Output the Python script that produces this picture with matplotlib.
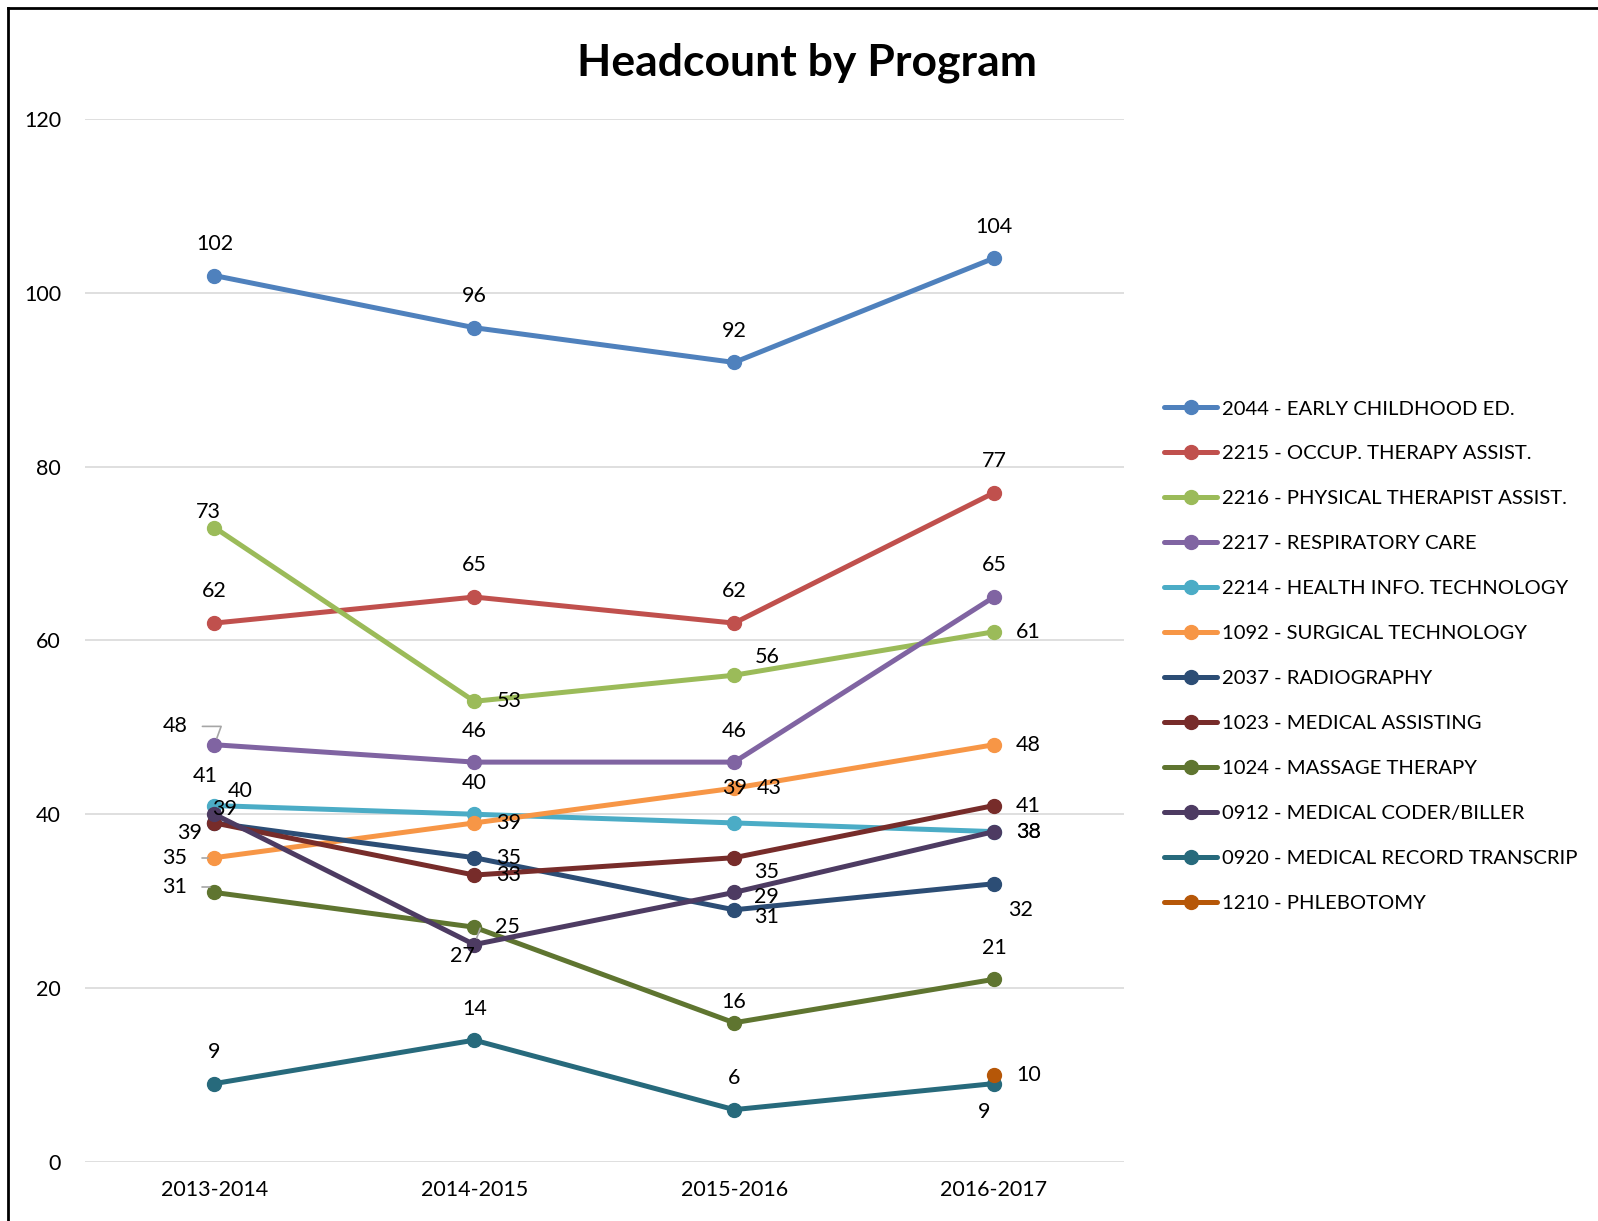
import numpy as np
import matplotlib
matplotlib.use('Agg')
import matplotlib.pyplot as plt
from matplotlib.lines import Line2D

plt.rcParams['font.family'] = ['Lato', 'DejaVu Sans']

# 데이터
years = ['2013-2014', '2014-2015', '2015-2016', '2016-2017']
programs = ['2044 - EARLY CHILDHOOD ED.', '2215 - OCCUP. THERAPY ASSIST.',
            '2216 - PHYSICAL THERAPIST ASSIST.', '2217 - RESPIRATORY CARE',
            '2214 - HEALTH INFO. TECHNOLOGY', '1092 - SURGICAL TECHNOLOGY',
            '2037 - RADIOGRAPHY', '1023 - MEDICAL ASSISTING',
            '1024 - MASSAGE THERAPY', '0912 - MEDICAL CODER/BILLER',
            '0920 - MEDICAL RECORD TRANSCRIP', '1210 - PHLEBOTOMY']
early_childhood = [102, 96, 92, 104]
occup_therapy = [62, 65, 62, 77]
physical_therapist = [73, 53, 56, 61]
respiratory = [48, 46, 46, 65]
health_info = [41, 40, 39, 38]
surgical = [35, 39, 43, 48]
radiography = [39, 35, 29, 32]
medical_assisting = [39, 33, 35, 41]
massage = [31, 27, 16, 21]
coder_biller = [40, 25, 31, 38]
transcrip = [9, 14, 6, 9]
phlebotomy = [None, None, None, 10]

series = [early_childhood, occup_therapy, physical_therapist, respiratory,
          health_info, surgical, radiography, medical_assisting, massage,
          coder_biller, transcrip, phlebotomy]
colors = ['#4F81BD', '#C0504D', '#9BBB59', '#8064A2', '#4BACC6', '#F79646',
          '#2C4D75', '#772C2A', '#5F7530', '#4D3B62', '#276A7C', '#B65708']

# 라벨 위치 (화면 px 오프셋: dx, dy)
A = (0, 31)
R = (34, 0)
label_offsets = [
    [A, A, A, A],
    [A, A, A, A],
    [(-6, 15), R, (32, 18), R],
    [(-39, 18), A, A, A],
    [(-9, 29), A, (0, 34), R],
    [(-39, 0), R, R, R],
    [(10, 14), R, (32, 13), (26, -26)],
    [(-24, -10), R, (32, -14), R],
    [(-39, 5), (-12, -28), (0, 20), A],
    [(25, 23), (33, 17), (32, -24), R],
    [A, A, A, (-10, -28)],
    [None, None, None, R],
]
leaders = {(3, 0), (5, 0), (8, 0), (9, 1)}

fig = plt.figure(figsize=(15.98, 12.21), dpi=100)
ax = fig.add_axes([0.0529, 0.0485, 0.6504, 0.8539])

x = np.arange(len(years))
k = 0.734
for i, (vals, c) in enumerate(zip(series, colors)):
    y = np.array([np.nan if v is None else v for v in vals], dtype=float)
    ax.plot(x, y, color=c, lw=3.6, marker='o', ms=10, label=programs[i],
            solid_capstyle='round', zorder=3)
    for j, v in enumerate(vals):
        if v is None:
            continue
        dx, dy = label_offsets[i][j]
        arrow = None
        if (i, j) in leaders:
            arrow = dict(arrowstyle='-', color='#A6A6A6', lw=1.2,
                         shrinkA=9, shrinkB=5,
                         connectionstyle='angle,angleA=0,angleB=70,rad=0')
        ax.annotate(str(v), (x[j], v), xytext=(dx * k, dy * k),
                    textcoords='offset points', ha='center', va='center',
                    fontsize=15.5, zorder=5, arrowprops=arrow)

ax.set_xlim(-0.5, 3.5)
ax.set_ylim(0, 120)
ax.set_yticks(range(0, 121, 20))
ax.set_xticks(x)
ax.set_xticklabels(years)
ax.grid(axis='y', color='#D9D9D9', lw=1.2, zorder=0)
for s in ax.spines.values():
    s.set_visible(False)
ax.tick_params(axis='both', length=0, labelsize=15.5)
ax.tick_params(axis='y', pad=17)
ax.tick_params(axis='x', pad=13)

fig.text(0.505, 0.949, 'Headcount by Program', ha='center', va='center',
         fontsize=32, fontweight='bold')

fig.legend(loc='center left', bbox_to_anchor=(0.7285, 0.4625), frameon=False,
           fontsize=14.6, handlelength=2.6, handletextpad=0.25, labelspacing=1.37,
           borderpad=0, borderaxespad=0)

# 차트 테두리 (왼쪽, 위쪽만 보임)
fig.add_artist(Line2D([8 / 1598, 8 / 1598], [0, 1 - 8 / 1221], color='black', lw=2,
                      transform=fig.transFigure))
fig.add_artist(Line2D([8 / 1598, 1], [1 - 8 / 1221, 1 - 8 / 1221], color='black', lw=2,
                      transform=fig.transFigure))

fig.savefig('out.png', dpi=100)
